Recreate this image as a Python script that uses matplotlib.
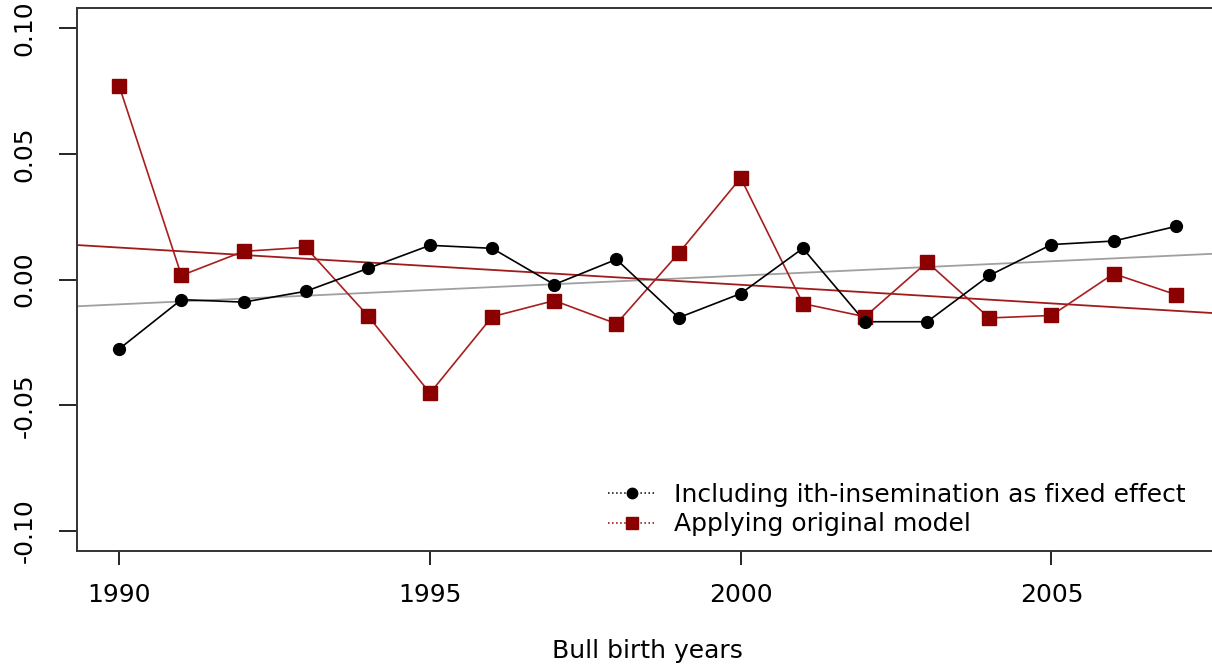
import numpy as np
import matplotlib
matplotlib.use("Agg")
import matplotlib.pyplot as plt

plt.rcParams['font.family'] = ['DejaVu Sans']

years = list(range(1990, 2008))
incl_ith = [-0.0276, -0.0080, -0.0090, -0.0047, 0.0044, 0.0136, 0.0124, -0.0020, 0.0080,
            -0.0152, -0.0056, 0.0124, -0.0168, -0.0168, 0.0016, 0.0139, 0.0153, 0.0211]
original = [0.0769, 0.0016, 0.0112, 0.0128, -0.0144, -0.0452, -0.0148, -0.0084, -0.0176,
            0.0104, 0.0404, -0.0096, -0.0148, 0.0069, -0.0153, -0.0143, 0.0023, -0.0060]
label_incl = "Including ith-insemination as fixed effect"
label_orig = "Applying original model"
x_ticks = [1990, 1995, 2000, 2005]
y_ticks = [-0.10, -0.05, 0.00, 0.05, 0.10]
y_ticklabels = ["-0.10", "-0.05", "0.00", "0.05", "0.10"]

RED = "#8B0000"
FS = 18
fig = plt.figure(figsize=(12.12, 6.65), dpi=100)
ax = fig.add_axes([77/1212, 1-551/665, (1218-77)/1212, (551-8)/665])

x = np.array(years, dtype=float)
xlim = (1989.32, 2007.68)
ylim = (-0.108, 0.108)

# regression lines
xx = np.array(xlim)
b1 = np.polyfit(x, incl_ith, 1)
b2 = np.polyfit(x, original, 1)
ax.plot(xx, np.polyval(b1, xx), color="#A0A0A0", lw=1.3, zorder=1)
ax.plot(xx, np.polyval(b2, xx), color="#A01C1C", lw=1.3, zorder=1)

ax.plot(x, original, color="#A81E1E", lw=1.2, zorder=2)
ax.plot(x, original, ls="none", marker="s", ms=9.5, color=RED, zorder=3)
ax.plot(x, incl_ith, color="black", lw=1.2, zorder=2)
ax.plot(x, incl_ith, ls="none", marker="o", ms=8.5, color="black", zorder=3)

ax.set_xlim(*xlim)
ax.set_ylim(*ylim)
ax.set_xticks(x_ticks)
ax.set_xticklabels([str(t) for t in x_ticks])
ax.set_yticks(y_ticks)
ax.set_yticklabels(y_ticklabels, rotation=90, va="center")
ax.tick_params(axis='x', length=10, width=1.2, pad=13, labelsize=FS, colors="black")
ax.tick_params(axis='y', length=13, width=1.2, pad=16, labelsize=FS)
for s in ax.spines.values():
    s.set_linewidth(1.4)
    s.set_color("#333333")

h1, = ax.plot([], [], ls=":", color="black", marker="o", ms=7.5, lw=1.1)
h2, = ax.plot([], [], ls=":", color=RED, marker="s", ms=8, lw=1.1)
ax.legend([h1, h2], [label_incl, label_orig], loc="upper left",
          bbox_to_anchor=(608/1212, 1-483/665), bbox_transform=fig.transFigure,
          frameon=False, fontsize=FS, handlelength=1.9, handletextpad=0.75,
          labelspacing=0.22, borderpad=0, borderaxespad=0)

fig.text(647/1212, 1-651/665, "Bull birth years", ha="center", va="center", fontsize=FS)

fig.savefig("out.png", dpi=100)
